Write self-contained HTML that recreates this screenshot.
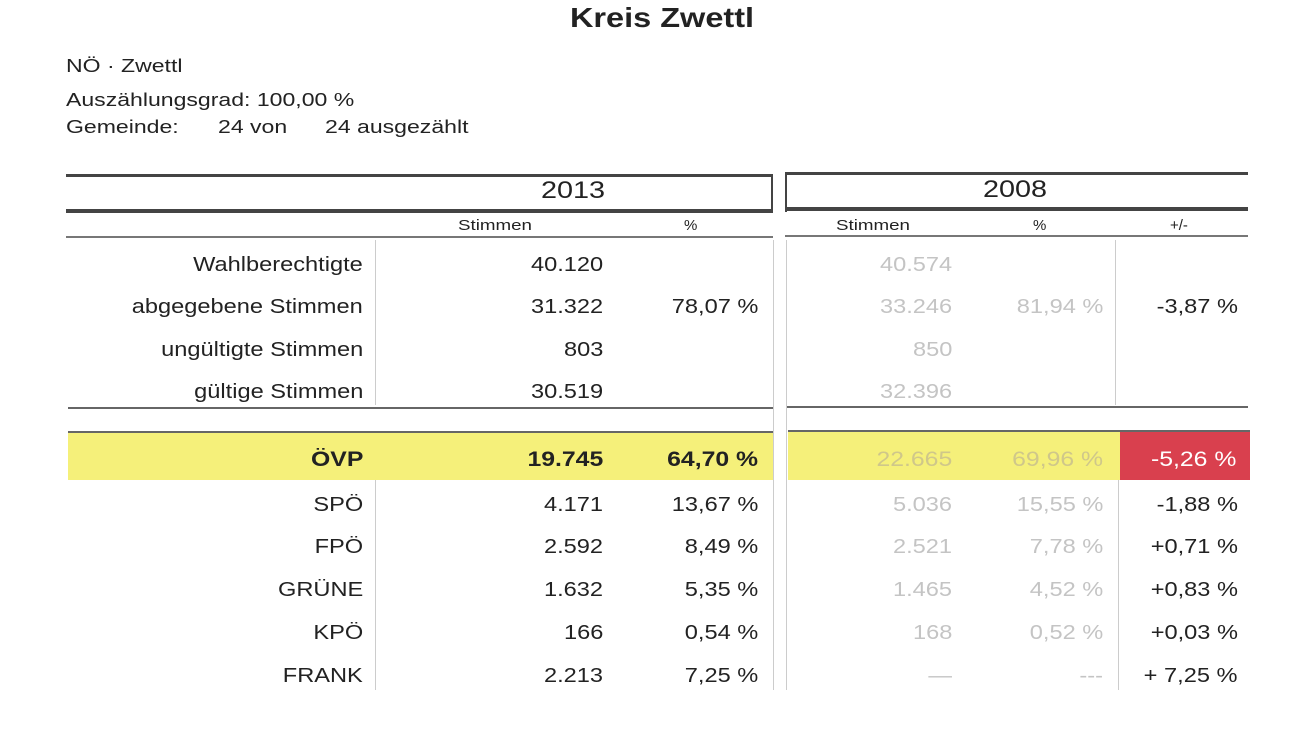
<!DOCTYPE html>
<html><head><meta charset="utf-8"><style>
body{margin:0;width:1296px;height:729px;background:#fff;position:relative;overflow:hidden;font-family:"Liberation Sans",sans-serif;color:#222}
div{position:absolute}
.t{white-space:nowrap;font-size:20px;line-height:24px}
.r{text-align:right;transform:scaleX(1.18);transform-origin:right center}
.sl{transform:scaleX(1.28);transform-origin:left center;font-size:18px}
.sc{transform:scaleX(1.2);transform-origin:center center}
.f{color:#c4c4c4}
.ln{background:#444}
.v{background:#ccc;width:1px}
</style></head><body>
<div class="t sc" style="left:0;width:1324px;text-align:center;top:2px;font-size:28px;line-height:32px;font-weight:bold;transform:scaleX(1.16)">Kreis Zwettl</div>
<div class="t sl" style="left:66px;top:54px">NÖ · Zwettl</div>
<div class="t sl" style="left:66px;top:88px">Auszählungsgrad: 100,00 %</div>
<div class="t sl" style="left:66px;top:115px">Gemeinde:</div>
<div class="t sl" style="left:218px;top:115px">24</div>
<div class="t sl" style="left:250px;top:115px">von</div>
<div class="t sl" style="left:325px;top:115px">24 ausgezählt</div>

<div class="ln" style="left:66px;top:174px;width:707px;height:3px"></div>
<div class="ln" style="left:771px;top:174px;width:2px;height:38px"></div>
<div class="ln" style="left:785px;top:172px;width:463px;height:3px"></div>
<div class="ln" style="left:785px;top:172px;width:2px;height:40px"></div>
<div class="ln" style="left:66px;top:209px;width:707px;height:4px"></div>
<div class="ln" style="left:785px;top:207px;width:463px;height:4px"></div>
<div class="ln" style="left:66px;top:236px;width:707px;height:2px;background:#777"></div>
<div class="ln" style="left:785px;top:235px;width:463px;height:2px;background:#777"></div>
<div class="ln" style="left:68px;top:407px;width:705px;height:2px;background:#666"></div>
<div class="ln" style="left:786px;top:406px;width:462px;height:2px;background:#666"></div>

<div class="t sc" style="left:513px;top:177px;font-size:24px;line-height:28px;width:120px;text-align:center">2013</div>
<div class="t sc" style="left:955px;top:176px;font-size:24px;line-height:28px;width:120px;text-align:center">2008</div>
<div class="t sc" style="left:445px;top:214px;width:100px;text-align:center;font-size:15px;transform:scaleX(1.25)">Stimmen</div>
<div class="t" style="left:684px;top:214px;font-size:15px">%</div>
<div class="t sc" style="left:823px;top:214px;width:100px;text-align:center;font-size:15px;transform:scaleX(1.25)">Stimmen</div>
<div class="t" style="left:1033px;top:214px;font-size:15px">%</div>
<div class="t" style="left:1170px;top:214px;font-size:15px">+/-</div>

<div class="v" style="left:375px;top:240px;height:165px"></div>
<div class="v" style="left:1115px;top:240px;height:165px"></div>
<div class="v" style="left:375px;top:480px;height:210px"></div>
<div class="v" style="left:1118px;top:480px;height:210px"></div>
<div class="v" style="left:773px;top:240px;height:450px"></div>
<div class="v" style="left:786px;top:240px;height:450px"></div>

<div style="left:68px;top:431px;width:705px;height:47px;background:#f5f07a;border-top:2px solid #666"></div>
<div style="left:788px;top:430px;width:332px;height:48px;background:#f5f07a;border-top:2px solid #666"></div>
<div style="left:1120px;top:430px;width:130px;height:48px;background:#d9404e;border-top:2px solid #666"></div>

<script>
const labels=["Wahlberechtigte","abgegebene Stimmen","ungültigte Stimmen","gültige Stimmen","ÖVP","SPÖ","FPÖ","GRÜNE","KPÖ","FRANK"];
const votes13=["40.120","31.322","803","30.519","19.745","4.171","2.592","1.632","166","2.213"];
const pct13=["","78,07 %","","","64,70 %","13,67 %","8,49 %","5,35 %","0,54 %","7,25 %"];
const votes08=["40.574","33.246","850","32.396","22.665","5.036","2.521","1.465","168","—"];
const pct08=["","81,94 %","","","69,96 %","15,55 %","7,78 %","4,52 %","0,52 %","---"];
const diff=["","-3,87 %","","","-5,26 %","-1,88 %","+0,71 %","+0,83 %","+0,03 %","+ 7,25 %"];
const ys=[265,307,350,392,460,505,547,590,633,676];
const cols=[[363,labels,""],[603,votes13,""],[758,pct13,""],[952,votes08,"f"],[1103,pct08,"f"],[1238,diff,""]];
ys.forEach((y,i)=>{cols.forEach((c,j)=>{const d=document.createElement('div');


d.className='t r '+c[2];d.textContent=c[1][i];
d.style.right=(1296-c[0])+'px';d.style.top=(y-12)+'px';
if(i==4){d.style.fontWeight=j<3?'bold':'normal';d.style.fontSize='21px';if(j==5){d.style.color='#fff';d.style.right=(1296-1236)+'px';}if(j>=3&&j<5)d.style.color='#cfc78a';}
document.body.appendChild(d);});});
</script>
</body></html>
